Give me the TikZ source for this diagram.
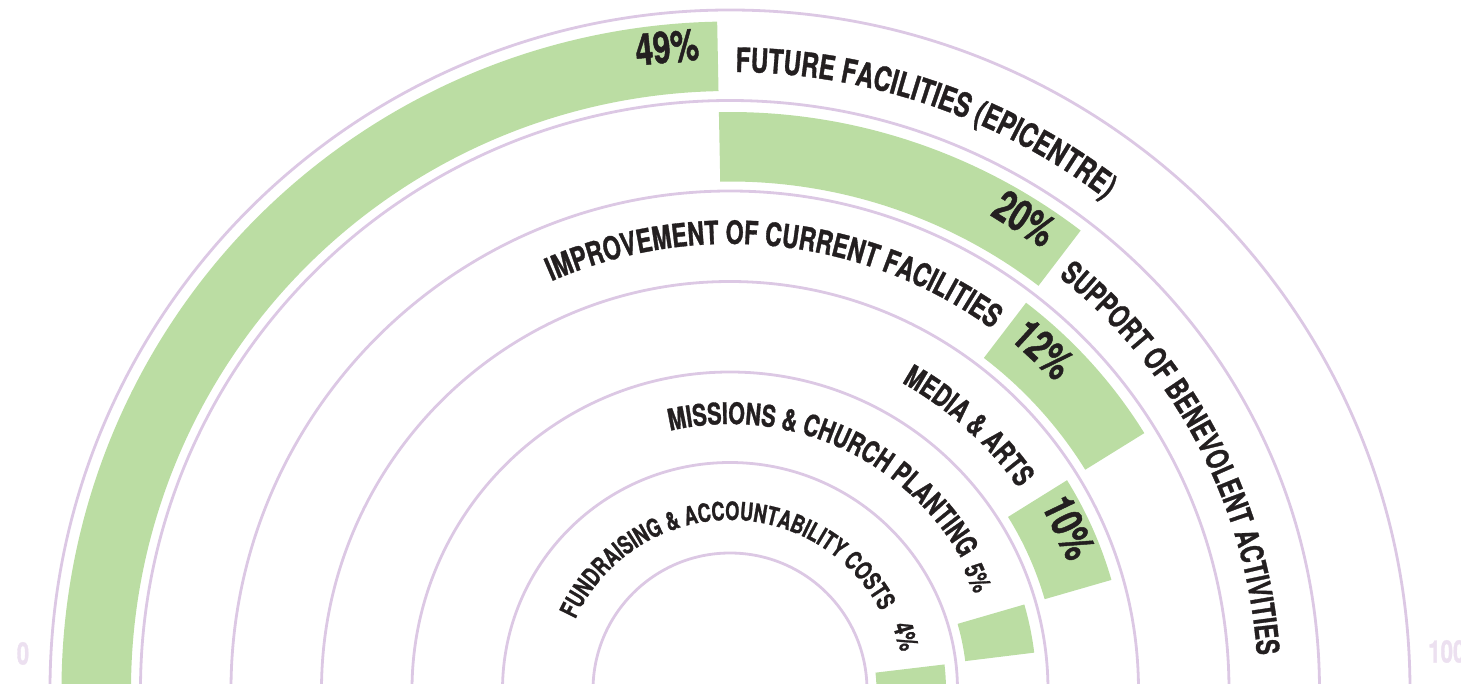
\documentclass[tikz,border=0pt]{standalone}
\usepackage{fontspec}
\newfontfamily\condfam[FakeStretch=0.72,FakeBold=1]{TeX Gyre Heros}
\usetikzlibrary{decorations.text}
\definecolor{ringc}{RGB}{220,200,228}
\definecolor{barc}{RGB}{187,221,163}
\definecolor{ink}{RGB}{35,31,32}
\definecolor{axisc}{RGB}{236,224,240}
\newcommand\annbar[4]{\fill[barfill] (#1:#3pt) arc[start angle=#1, end angle=#2, radius=#3pt] -- (#2:#4pt) arc[start angle=#2, end angle=#1, radius=#4pt] -- cycle;}
% #1 mid angle, #2 radius, #3 font size, #4 text
\newcommand\arclabel[4]{\path[decorate, decoration={text along path, text align=center, text={|\condfam\bfseries\fontsize{#3}{#3}\selectfont\color{ink}|#4}}] ({#1+40}:#2pt) arc[start angle={#1+40}, end angle={#1-40}, radius=#2pt];}
\newcommand\arclabelwide[4]{\path[decorate, decoration={text along path, text align=center, text={|\condfam\bfseries\fontsize{#3}{#3}\selectfont\color{ink}|#4}}] ({#1+75}:#2pt) arc[start angle={#1+75}, end angle={#1-75}, radius=#2pt];}
\begin{document}
\begin{tikzpicture}[x=1pt,y=1pt,
  ring/.style={draw=ringc, line width=2.8pt},
  barfill/.style={fill=barc},
  pct/.style={font=\condfam\bfseries\fontsize{44}{44}\selectfont, text=ink, inner sep=0pt, text height=0.71em, text depth=0pt},
  pcts/.style={font=\condfam\bfseries\fontsize{27}{27}\selectfont, text=ink, inner sep=0pt, text height=0.71em, text depth=0pt},
  axislbl/.style={font=\condfam\bfseries\fontsize{31}{31}\selectfont, text=axisc, inner sep=0pt, text height=0.71em, text depth=0pt},
]
\useasboundingbox (-730,7) rectangle (731,690);
\clip (-730,7) rectangle (731,690);
\coordinate (O) at (0,0);
\foreach \r in {680,589.5,499,408.5,318,227.5,137} \draw[ring] (O) circle[radius=\r pt];
% bars
\annbar{182}{91.1}{599}{668.5}
\annbar{91.1}{52.65}{508.5}{578}
\annbar{52.6}{31.8}{418}{487.5}
\annbar{31.9}{16.1}{327.5}{397}
\annbar{16.2}{7.0}{237}{306.5}
\annbar{6.8}{-2}{146.5}{216}
% arc labels
\arclabel{71.05}{618}{33.6}{FUTURE FACILITIES (EPICENTRE)}
\arclabel{27.65}{528}{31.5}{SUPPORT OF BENEVOLENT ACTIVITIES}
\arclabelwide{83.8}{446}{32.2}{IMPROVEMENT OF CURRENT FACILITIES}
\arclabel{47.9}{352}{30.5}{MEDIA {\&} ARTS}
\arclabelwide{66.3}{266}{29.8}{MISSIONS {\&} CHURCH PLANTING}
\arclabelwide{91.5}{170}{25.3}{FUNDRAISING {\&} ACCOUNTABILITY COSTS}
% percent labels
\node[pct, rotate=5.6] (p49) at (95.6:634pt) {49\%};
\node[pct, rotate=-32] (p20) at (58:544pt) {20\%};
\node[pct, rotate=-42.6] (p12) at (47.4:451pt) {12\%};
\node[pct, rotate=-64.4] (p10) at (25.6:364pt) {10\%};
\node[pcts, rotate=-65.6] (p5) at (24.4:266pt) {5\%};
\node[pcts, rotate=-73] (p4) at (17:178pt) {4\%};
% axis labels
\node[axislbl] (ax0) at (-707,29) {0};
\node[axislbl, anchor=west] (ax100) at (698,31) {100};
\end{tikzpicture}
\end{document}
